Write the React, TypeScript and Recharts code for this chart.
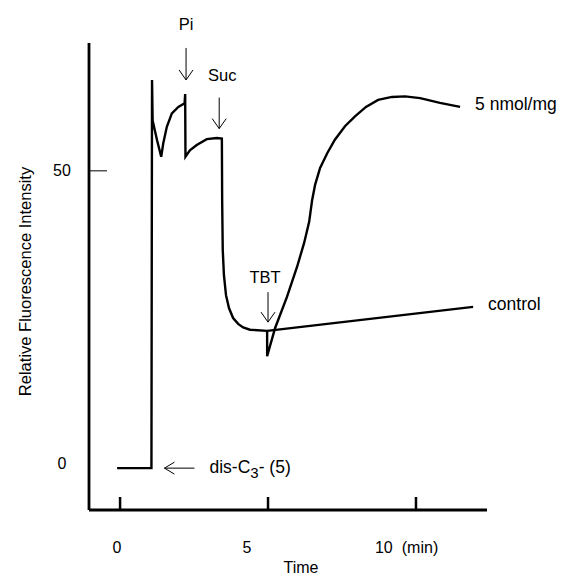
import React from 'react';
import { LineChart, Line, XAxis, YAxis, ReferenceDot } from 'recharts';

// trace before TBT addition (shared by both runs)
const mainTime = [
  -0.1, 1.06, 1.08, 1.1, 1.25, 1.39, 1.46, 1.58, 1.75, 1.97, 2.18, 2.2, 2.21, 2.36, 2.59, 2.93, 3.27,
  3.44, 3.45, 3.47, 3.51, 3.58, 3.68, 3.82, 3.99, 4.16, 4.39, 4.97,
];
const mainSignal = [
  -0.7, -0.7, 65.5, 58.6, 55.2, 52.4, 54.7, 57.5, 59.8, 60.9, 61.5, 63.1, 52.4, 53.5, 54.4, 55.4, 55.6,
  55.5, 45.0, 36.5, 32.2, 28.8, 26.6, 24.9, 23.9, 23.3, 22.9, 22.7,
];

const controlTime = [4.97, 11.93];
const controlSignal = [22.7, 26.8];

const tbtTime = [
  4.97, 4.97, 5.24, 5.64, 5.98, 6.22, 6.39, 6.49, 6.59, 6.76, 7.0, 7.26, 7.6, 7.94, 8.31, 8.72, 9.19,
  9.63, 10.14, 10.81, 11.49,
];
const tbtSignal = [
  22.7, 18.4, 23.2, 28.5, 33.6, 37.7, 41.3, 45.0, 47.6, 50.5, 53.0, 55.3, 57.6, 59.3, 60.9, 62.1, 62.6,
  62.7, 62.4, 61.6, 60.9,
];

const xTicks = [0, 5, 10];
const yTicks = [0, 50];

// additions: time and the level where the arrow points
const piAdd = { x: 2.23, y: 65.5 };
const sucAdd = { x: 3.35, y: 57.2 };
const tbtAdd = { x: 5.0, y: 24.2 };
const dyeAdd = { x: 1.5, y: -0.7 };

const toPoints = (t: number[], v: number[]) => t.map((x, i) => ({ x, y: v[i] }));
const mainData = toPoints(mainTime, mainSignal);
const controlData = toPoints(controlTime, controlSignal);
const tbtData = toPoints(tbtTime, tbtSignal);

const FONT = '"Liberation Sans", Arial, Helvetica, sans-serif';

const XTick = (props: any) => {
  const { x, y, payload } = props;
  const v = payload.value;
  return (
    <g>
      <line x1={x} x2={x} y1={y} y2={y - 13} stroke="#000" strokeWidth={2.5} />
      {v === 10 ? (
        <text x={x - 41} y={y + 43} fontSize={16} fontFamily={FONT} fill="#000">
          10<tspan dx={9}>(min)</tspan>
        </text>
      ) : (
        <text x={x - (v === 0 ? 3 : 21)} y={y + 43} textAnchor="middle" fontSize={16} fontFamily={FONT} fill="#000">
          {v}
        </text>
      )}
    </g>
  );
};

const YTick = (props: any) => {
  const { x, y, payload } = props;
  return (
    <g>
      {payload.value === 50 && <line x1={x} x2={x + 18} y1={y} y2={y} stroke="#000" strokeWidth={1} />}
      <text x={62} y={y + 5} textAnchor="middle" fontSize={16} fontFamily={FONT} fill="#000">
        {payload.value}
      </text>
    </g>
  );
};

const downArrow = (cx: number, cy: number, len: number) => (
  <g stroke="#000" strokeWidth={1} fill="none">
    <line x1={cx} x2={cx} y1={cy - len} y2={cy} />
    <polyline points={`${cx - 7},${cy - 10} ${cx},${cy} ${cx + 7},${cy - 10}`} />
  </g>
);

const addShape = (label: string, len: number, dx: number, dy: number) => (p: any) => (
  <g>
    {downArrow(p.cx, p.cy, len)}
    <text x={p.cx + dx} y={p.cy + dy} textAnchor="middle" fontSize={16.5} fontFamily={FONT} fill="#000">
      {label}
    </text>
  </g>
);

const dyeShape = (p: any) => (
  <g>
    <g stroke="#000" strokeWidth={1} fill="none">
      <line x1={p.cx} x2={p.cx + 30} y1={p.cy} y2={p.cy} />
      <polyline points={`${p.cx + 10},${p.cy - 6} ${p.cx},${p.cy} ${p.cx + 10},${p.cy + 6}`} />
    </g>
    <text x={p.cx + 45} y={p.cy + 5} fontSize={17.5} fontFamily={FONT} fill="#000">
      dis-C<tspan dy={5} fontSize={15}>3</tspan>
      <tspan dy={-5}>- (5)</tspan>
    </text>
  </g>
);

const endLabel = (label: string) => (p: any) => (
  <text x={p.cx + 15} y={p.cy + 3} fontSize={17.5} fontFamily={FONT} fill="#000">
    {label}
  </text>
);

export default function App() {
  const tbtEnd = tbtData[tbtData.length - 1];
  const controlEnd = controlData[controlData.length - 1];
  return (
    <div style={{ position: 'absolute', left: 0, top: 0, background: '#fff' }}>
      <LineChart width={561} height={576} margin={{ top: 43, right: 74, bottom: 0, left: 0 }}>
        <XAxis
          type="number"
          dataKey="x"
          domain={[-1.05, 12.4]}
          ticks={xTicks}
          allowDataOverflow
          height={66}
          tickSize={0}
          tickMargin={0}
          tick={<XTick />}
          axisLine={{ stroke: '#000', strokeWidth: 2.8 }}
          label={{
            content: (p: any) => (
              <text
                x={p.viewBox.x + 212}
                y={p.viewBox.y + 63}
                textAnchor="middle"
                fontSize={16}
                fontFamily={FONT}
                fill="#000"
              >
                Time
              </text>
            ),
          }}
        />
        <YAxis
          type="number"
          dataKey="y"
          domain={[-7.84, 71.8]}
          ticks={yTicks}
          allowDataOverflow
          width={89}
          tickSize={0}
          tickMargin={0}
          tick={<YTick />}
          axisLine={{ stroke: '#000', strokeWidth: 2.8 }}
          label={{
            content: (p: any) => {
              const cx = p.viewBox.x + 25;
              const cy = p.viewBox.y + p.viewBox.height / 2 + 5;
              return (
                <text
                  x={cx}
                  y={cy}
                  transform={`rotate(-90, ${cx}, ${cy})`}
                  textAnchor="middle"
                  dominantBaseline="central"
                  fontSize={16.5}
                  fontFamily={FONT}
                  fill="#000"
                >
                  Relative Fluorescence Intensity
                </text>
              );
            },
          }}
        />
        <Line data={mainData} dataKey="y" type="linear" stroke="#000" strokeWidth={2.4} dot={false} isAnimationActive={false} />
        <Line data={controlData} dataKey="y" type="linear" stroke="#000" strokeWidth={2.4} dot={false} isAnimationActive={false} />
        <Line data={tbtData} dataKey="y" type="linear" stroke="#000" strokeWidth={2.4} dot={false} isAnimationActive={false} />
        <ReferenceDot x={piAdd.x} y={piAdd.y} shape={addShape('Pi', 32, 0, -50)} />
        <ReferenceDot x={sucAdd.x} y={sucAdd.y} shape={addShape('Suc', 31, 3, -48)} />
        <ReferenceDot x={tbtAdd.x} y={tbtAdd.y} shape={addShape('TBT', 30, -3, -39)} />
        <ReferenceDot x={dyeAdd.x} y={dyeAdd.y} shape={dyeShape} />
        <ReferenceDot x={tbtEnd.x} y={tbtEnd.y} shape={endLabel('5 nmol/mg')} />
        <ReferenceDot x={controlEnd.x} y={controlEnd.y} shape={endLabel('control')} />
      </LineChart>
    </div>
  );
}
